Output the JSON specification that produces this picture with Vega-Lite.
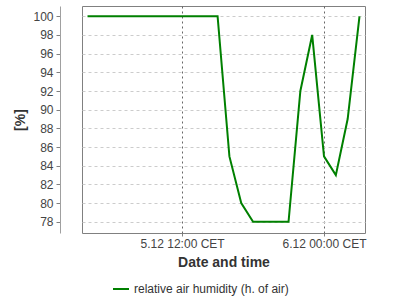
{
  "$schema": "https://vega.github.io/schema/vega-lite/v6.json",
  "width": 283,
  "height": 227,
  "autosize": "none",
  "padding": {"left": 82, "top": 6, "right": 35, "bottom": 67},
  "config": {
    "font": "Liberation Sans",
    "view": {"stroke": "#808080", "strokeWidth": 1}
  },
  "data": {
    "values": [
      {"time": "2018-12-05T04:00:00", "value": 100, "series": "relative air humidity (h. of air)"},
      {"time": "2018-12-05T05:00:00", "value": 100, "series": "relative air humidity (h. of air)"},
      {"time": "2018-12-05T06:00:00", "value": 100, "series": "relative air humidity (h. of air)"},
      {"time": "2018-12-05T07:00:00", "value": 100, "series": "relative air humidity (h. of air)"},
      {"time": "2018-12-05T08:00:00", "value": 100, "series": "relative air humidity (h. of air)"},
      {"time": "2018-12-05T09:00:00", "value": 100, "series": "relative air humidity (h. of air)"},
      {"time": "2018-12-05T10:00:00", "value": 100, "series": "relative air humidity (h. of air)"},
      {"time": "2018-12-05T11:00:00", "value": 100, "series": "relative air humidity (h. of air)"},
      {"time": "2018-12-05T12:00:00", "value": 100, "series": "relative air humidity (h. of air)"},
      {"time": "2018-12-05T13:00:00", "value": 100, "series": "relative air humidity (h. of air)"},
      {"time": "2018-12-05T14:00:00", "value": 100, "series": "relative air humidity (h. of air)"},
      {"time": "2018-12-05T15:00:00", "value": 100, "series": "relative air humidity (h. of air)"},
      {"time": "2018-12-05T16:00:00", "value": 85, "series": "relative air humidity (h. of air)"},
      {"time": "2018-12-05T17:00:00", "value": 80, "series": "relative air humidity (h. of air)"},
      {"time": "2018-12-05T18:00:00", "value": 78, "series": "relative air humidity (h. of air)"},
      {"time": "2018-12-05T19:00:00", "value": 78, "series": "relative air humidity (h. of air)"},
      {"time": "2018-12-05T20:00:00", "value": 78, "series": "relative air humidity (h. of air)"},
      {"time": "2018-12-05T21:00:00", "value": 78, "series": "relative air humidity (h. of air)"},
      {"time": "2018-12-05T22:00:00", "value": 92, "series": "relative air humidity (h. of air)"},
      {"time": "2018-12-05T23:00:00", "value": 98, "series": "relative air humidity (h. of air)"},
      {"time": "2018-12-06T00:00:00", "value": 85, "series": "relative air humidity (h. of air)"},
      {"time": "2018-12-06T01:00:00", "value": 83, "series": "relative air humidity (h. of air)"},
      {"time": "2018-12-06T02:00:00", "value": 89, "series": "relative air humidity (h. of air)"},
      {"time": "2018-12-06T03:00:00", "value": 100, "series": "relative air humidity (h. of air)"}
    ]
  },
  "mark": {"type": "line", "strokeWidth": 2, "clip": true},
  "encoding": {
    "x": {
      "field": "time",
      "type": "temporal",
      "scale": {
        "domain": [
          {"year": 2018, "month": 12, "date": 5, "hours": 3, "minutes": 32},
          {"year": 2018, "month": 12, "date": 6, "hours": 3, "minutes": 28}
        ],
        "nice": false
      },
      "axis": {
        "title": "Date and time",
        "titleFontSize": 14,
        "titleFontWeight": "bold",
        "titleColor": "#333333",
        "titlePadding": 6,
        "values": [
          {"year": 2018, "month": 12, "date": 5, "hours": 12},
          {"year": 2018, "month": 12, "date": 6, "hours": 0}
        ],
        "format": "%-d.%-m %H:%M CET",
        "labelFontSize": 12,
        "labelColor": "#444444",
        "labelPadding": 2,
        "tickSize": 3,
        "tickColor": "#808080",
        "domain": false,
        "grid": true,
        "gridColor": "#666666",
        "gridDash": [2, 3],
        "gridWidth": 1
      }
    },
    "y": {
      "field": "value",
      "type": "quantitative",
      "scale": {"domain": [76.8, 101.1], "nice": false, "zero": false},
      "axis": {
        "title": "[%]",
        "titleFontSize": 14,
        "titleFontWeight": "bold",
        "titleColor": "#333333",
        "titlePadding": 5,
        "values": [78, 80, 82, 84, 86, 88, 90, 92, 94, 96, 98, 100],
        "labelFontSize": 12,
        "labelColor": "#444444",
        "labelPadding": 3,
        "tickSize": 4,
        "tickColor": "#808080",
        "domainColor": "#a0a0a0",
        "offset": 22,
        "grid": true,
        "gridColor": "#cccccc",
        "gridDash": [3, 3],
        "gridWidth": 1
      }
    },
    "color": {
      "field": "series",
      "type": "nominal",
      "scale": {"range": ["#008000"]},
      "legend": {
        "title": null,
        "orient": "none",
        "legendX": 30,
        "legendY": 274,
        "symbolType": "stroke",
        "symbolSize": 256,
        "symbolStrokeWidth": 2,
        "labelFontSize": 12,
        "labelColor": "#333333"
      }
    }
  }
}
